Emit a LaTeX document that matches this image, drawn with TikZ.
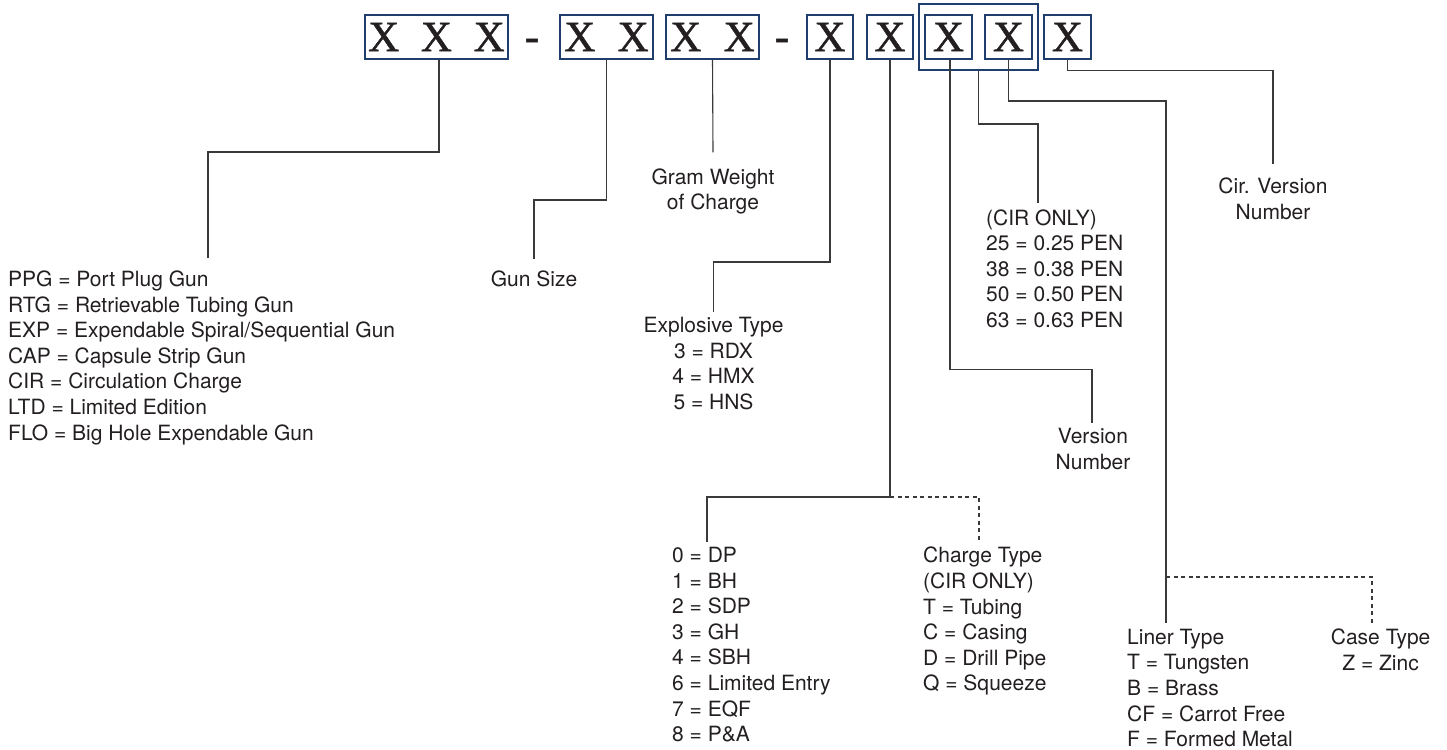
\documentclass[tikz,border=0pt]{standalone}
\usepackage{fontspec}
\setmainfont{TeX Gyre Heros}
\newfontfamily\xfont[FakeBold=1]{Liberation Serif}
\definecolor{linec}{HTML}{3A3A3A}
\definecolor{textc}{HTML}{231F20}
\definecolor{boxc}{HTML}{1F3E6E}
\begin{document}
\begin{tikzpicture}[x=1pt,y=-1pt,
  xbox/.style={draw=boxc, line width=1.2pt, inner sep=0pt, minimum height=44pt,
               font=\xfont\fontsize{43}{43}\selectfont, text=textc},
  dashtxt/.style={font=\xfont\fontsize{43}{43}\selectfont, text=textc, anchor=base, inner sep=0pt},
  lbl/.style={inner xsep=0pt, font=\fontsize{21}{25.6}\selectfont, text=textc},
  conn/.style={draw=linec, line width=1.1pt},
  dconn/.style={conn, dash pattern=on 4pt off 3.5pt}]
\useasboundingbox (0,0) rectangle (1447,749);

% code boxes
\node[xbox, minimum width=143pt] (b1) at (436.5,37) {X\hspace{21.7pt}X\hspace{21.7pt}X};
\node[dashtxt] (d1) at (532,50.7) {-};
\node[xbox, minimum width=93pt] (b2) at (606.5,37) {X\hspace{22.3pt}X};
\node[xbox, minimum width=93pt] (b3) at (712.5,37) {X\hspace{22.3pt}X};
\node[dashtxt] (d2) at (782,50.7) {-};
\node[xbox, minimum width=46pt] (b4) at (830,37) {X};
\node[xbox, minimum width=46pt] (b5) at (890,37) {X};
\node[xbox, minimum width=119pt, minimum height=66pt] (outer) at (978.5,37) {};
\node[xbox, minimum width=47pt] (b6) at (948.5,37) {X};
\node[xbox, minimum width=47pt] (b7) at (1008.5,37) {X};
\node[xbox, minimum width=47pt] (b8) at (1067.5,37) {X};

% labels
\node[lbl, anchor=north west, inner ysep=12.6pt, align=left] (ppg) at (8,258)
  {PPG = Port Plug Gun\\RTG = Retrievable Tubing Gun\\EXP = Expendable Spiral/Sequential Gun\\CAP = Capsule Strip Gun\\CIR = Circulation Charge\\LTD = Limited Edition\\FLO = Big Hole Expendable Gun};
\node[lbl, anchor=north, inner ysep=12pt] (gun) at (534,259) {Gun Size};
\node[lbl, anchor=north, inner ysep=16pt, align=center] (gram) at (713,152.3) {Gram Weight\\of Charge};
\node[lbl, anchor=north, inner ysep=5.5pt, align=center] (expl) at (713.5,311.7)
  {Explosive Type\\3 = RDX\\4 = HMX\\5 = HNS};
\node[lbl, anchor=north west, inner ysep=5.3pt, align=left] (dp) at (672,541.7)
  {0 = DP\\1 = BH\\2 = SDP\\3 = GH\\4 = SBH\\6 = Limited Entry\\7 = EQF\\8 = P\&A};
\node[lbl, anchor=north west, inner ysep=5.3pt, align=left] (chg) at (923,541.7)
  {Charge Type\\(CIR ONLY)\\T = Tubing\\C = Casing\\D = Drill Pipe\\Q = Squeeze};
\node[lbl, anchor=north, inner ysep=5.5pt, align=center] (ver) at (1093,422.7) {Version\\Number};
\node[lbl, anchor=north west, inner ysep=6pt, align=left] (cir) at (986,203.3)
  {(CIR ONLY)\\25 = 0.25 PEN\\38 = 0.38 PEN\\50 = 0.50 PEN\\63 = 0.63 PEN};
\node[lbl, anchor=north west, inner ysep=6pt, align=left] (liner) at (1127,622.7)
  {Liner Type\\T = Tungsten\\B = Brass\\CF = Carrot Free\\F = Formed Metal};
\node[lbl, anchor=north, inner ysep=6pt, align=center] (case) at (1380.6,622.7) {Case Type\\Z = Zinc};
\node[lbl, anchor=north, inner ysep=14pt, align=center] (cirv) at (1273,164) {Cir. Version\\Number};

% elbow coordinates
\coordinate (e1) at (208,152);
\coordinate (e2) at (534,200);
\coordinate (e4) at (713.5,262);
\coordinate (e5) at (890,497);
\coordinate (e5l) at (707,497);
\coordinate (e5r) at (979,497);
\coordinate (e6) at (1092,369.3);
\coordinate (e7) at (1038,124);
\coordinate (e8) at (1166,101);
\coordinate (e8d) at (1166,577);
\coordinate (e8r) at (1372,577);
\coordinate (e9) at (1273,70.7);

% connectors
\draw[conn] ([xshift=2.5pt]b1.south) |- (e1) -- (e1 |- ppg.north);
\draw[conn] (b2.south) |- (e2) -- (gun.north);
\draw[conn] (b3.south) -- (gram.north);
\draw[conn] (b4.south) |- (e4) -- (expl.north);
\draw[conn] (b5.south) -- (e5) -- (e5l) -- (e5l |- dp.north);
\draw[dconn] (e5) -- (e5r) -- (e5r |- chg.north);
\draw[conn] ([xshift=1.5pt]b6.south) |- (e6) -- (e6 |- ver.north);
\draw[conn] (outer.south) |- (e7) -- (e7 |- cir.north);
\draw[conn] (b7.south) |- (e8) -- (e8 |- liner.north);
\draw[dconn] (e8d) -- (e8r) -- (e8r |- case.north);
\draw[conn] (b8.south) |- (e9) -- (cirv.north);
\end{tikzpicture}
\end{document}
